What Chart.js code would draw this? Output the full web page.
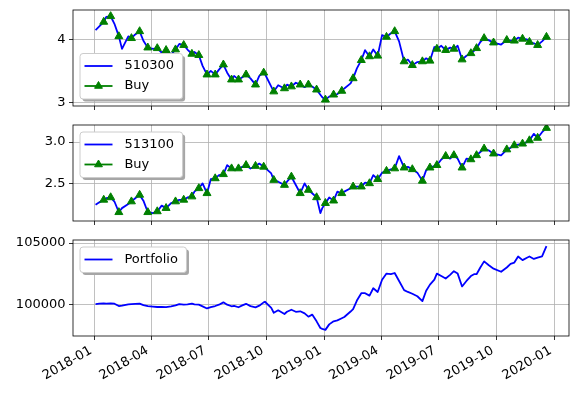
<!DOCTYPE html>
<html>
<head>
<meta charset="utf-8">
<script src="https://cdn.jsdelivr.net/npm/chart.js@4.4.0/dist/chart.umd.min.js"></script>
<style>
  html, body { margin: 0; padding: 0; background: #fff; }
  #wrap { position: relative; width: 578px; height: 397px; }
  canvas { position: absolute; left: 0; }
</style>
</head>
<body>
<div id="wrap">
  <canvas id="c510300" width="578" height="115" style="top:0px"></canvas>
  <canvas id="c513100" width="578" height="115" style="top:115px"></canvas>
  <canvas id="cPortfolio" width="578" height="167" style="top:230px"></canvas>
</div>
<script>
// trading dates sampled from the backtest
const dates = [
  '2018-01-02','2018-01-08','2018-01-15','2018-01-19','2018-01-26','2018-02-01','2018-02-08','2018-02-13','2018-02-23','2018-02-28',
  '2018-03-06','2018-03-13','2018-03-19','2018-03-26','2018-04-03','2018-04-10','2018-04-17','2018-04-24','2018-05-02','2018-05-09',
  '2018-05-15','2018-05-22','2018-05-28','2018-06-04','2018-06-08','2018-06-15','2018-06-21','2018-06-28','2018-07-04','2018-07-11',
  '2018-07-17','2018-07-24','2018-07-30','2018-08-06','2018-08-10','2018-08-17','2018-08-23','2018-08-29','2018-09-05','2018-09-13',
  '2018-09-19','2018-09-26','2018-09-28','2018-10-08','2018-10-12','2018-10-19','2018-10-29','2018-11-02','2018-11-09','2018-11-16',
  '2018-11-23','2018-11-30','2018-12-06','2018-12-12','2018-12-19','2018-12-25','2018-12-28','2019-01-02','2019-01-08','2019-01-15',
  '2019-01-21','2019-01-28','2019-02-01','2019-02-11','2019-02-15','2019-02-21','2019-02-28','2019-03-06','2019-03-13','2019-03-19',
  '2019-03-26','2019-04-02','2019-04-09','2019-04-16','2019-04-22','2019-04-29','2019-05-07','2019-05-13','2019-05-20','2019-05-28',
  '2019-06-05','2019-06-11','2019-06-17','2019-06-24','2019-06-28','2019-07-05','2019-07-12','2019-07-19','2019-07-25','2019-07-31',
  '2019-08-07','2019-08-14','2019-08-21','2019-08-26','2019-08-30','2019-09-05','2019-09-11','2019-09-18','2019-09-26','2019-10-08',
  '2019-10-17','2019-10-23','2019-10-29','2019-11-04','2019-11-11','2019-11-18','2019-11-22','2019-11-29','2019-12-05','2019-12-12',
  '2019-12-19'
];

const price510300 = [
  4.15, 4.21, 4.28, 4.36, 4.37, 4.25, 4.05, 3.85, 4.05, 4.02,
  4.08, 4.13, 3.98, 3.87, 3.85, 3.86, 3.79, 3.83, 3.76, 3.84,
  3.93, 3.91, 3.84, 3.77, 3.80, 3.75, 3.58, 3.44, 3.50, 3.44,
  3.52, 3.60, 3.47, 3.36, 3.42, 3.36, 3.40, 3.44, 3.38, 3.28,
  3.42, 3.47, 3.45, 3.25, 3.17, 3.27, 3.22, 3.28, 3.25, 3.31,
  3.28, 3.24, 3.28, 3.25, 3.20, 3.12, 3.08, 3.04, 3.09, 3.12,
  3.13, 3.18, 3.22, 3.30, 3.38, 3.54, 3.67, 3.83, 3.73, 3.84,
  3.74, 4.07, 4.04, 4.10, 4.13, 3.97, 3.65, 3.68, 3.59, 3.64,
  3.65, 3.70, 3.66, 3.88, 3.85, 3.90, 3.83, 3.87, 3.85, 3.90,
  3.68, 3.74, 3.78, 3.82, 3.86, 3.96, 4.02, 3.99, 3.95, 3.92,
  3.99, 3.98, 3.98, 4.03, 4.01, 4.00, 3.96, 3.94, 3.91, 3.97,
  4.04
];

const price513100 = [
  2.24, 2.27, 2.30, 2.32, 2.33, 2.28, 2.15, 2.20, 2.25, 2.28,
  2.32, 2.36, 2.29, 2.15, 2.14, 2.16, 2.23, 2.20, 2.26, 2.28,
  2.30, 2.30, 2.33, 2.34, 2.40, 2.44, 2.50, 2.38, 2.55, 2.56,
  2.60, 2.61, 2.72, 2.68, 2.66, 2.68, 2.70, 2.72, 2.68, 2.71,
  2.74, 2.70, 2.69, 2.62, 2.54, 2.52, 2.48, 2.52, 2.58, 2.48,
  2.38, 2.50, 2.42, 2.38, 2.33, 2.14, 2.20, 2.26, 2.33, 2.29,
  2.40, 2.38, 2.40, 2.44, 2.46, 2.46, 2.46, 2.51, 2.50, 2.60,
  2.55, 2.63, 2.65, 2.67, 2.68, 2.83, 2.69, 2.70, 2.67, 2.63,
  2.53, 2.66, 2.69, 2.71, 2.72, 2.79, 2.83, 2.80, 2.84, 2.80,
  2.69, 2.80, 2.79, 2.82, 2.84, 2.88, 2.92, 2.90, 2.86, 2.84,
  2.91, 2.93, 2.96, 2.97, 2.98, 3.00, 3.02, 3.10, 3.05, 3.12,
  3.17
];

const portfolio = [
  100000, 100040, 100060, 100050, 100070, 100040, 99850, 99880, 99980, 100000,
  100020, 100040, 99920, 99840, 99800, 99770, 99780, 99760, 99820, 99900,
  100010, 99960, 99990, 100050, 99980, 99960, 99820, 99650, 99760, 99850,
  99960, 100150, 99960, 99830, 99870, 99750, 99900, 100030, 99840, 99740,
  99880, 100150, 100200, 99700, 99300, 99500, 99200, 99380, 99550, 99380,
  99420, 99250, 98980, 99150, 98600, 98050, 97980, 97900, 98350, 98600,
  98680, 98850, 98950, 99400, 99600, 100300, 100900, 100900, 100700, 101300,
  101000, 102000, 102500, 102450, 102550, 101900, 101150, 101000, 100850, 100650,
  100250, 101100, 101600, 102000, 102500, 102300, 102100, 102400, 102700, 102500,
  101450, 101900, 102300, 102450, 102450, 103000, 103500, 103200, 102900, 102650,
  103000, 103300, 103400, 103900, 103600, 103800, 103900, 103700, 103800, 103900,
  104750
];

// dates on which both ETFs were bought
const buyDates = [
  '2018-01-15','2018-01-26','2018-02-08','2018-02-28','2018-03-13','2018-03-26','2018-04-10','2018-04-24','2018-05-09','2018-05-22',
  '2018-06-04','2018-06-15','2018-06-28','2018-07-11','2018-07-24','2018-08-06','2018-08-17','2018-08-29','2018-09-13','2018-09-26',
  '2018-10-12','2018-10-29','2018-11-09','2018-11-23','2018-12-06','2018-12-19','2019-01-02','2019-01-15','2019-01-28','2019-02-15',
  '2019-02-28','2019-03-13','2019-03-26','2019-04-09','2019-04-22','2019-05-07','2019-05-20','2019-06-05','2019-06-17','2019-06-28',
  '2019-07-12','2019-07-25','2019-08-07','2019-08-21','2019-08-30','2019-09-11','2019-09-26','2019-10-17','2019-10-29','2019-11-11',
  '2019-11-22','2019-12-05','2019-12-19'
];

const xTickDates = ['2018-01-01','2018-04-01','2018-07-01','2018-10-01','2019-01-01','2019-04-01','2019-07-01','2019-10-01','2020-01-01'];
const xTickLabels = ['2018-01','2018-04','2018-07','2018-10','2019-01','2019-04','2019-07','2019-10','2020-01'];

const yTicks510300 = [3, 4];
const yLabels510300 = ['3', '4'];
const yTicks513100 = [2.5, 3.0];
const yLabels513100 = ['2.5', '3.0'];
const yTicksPortfolio = [100000, 105000];
const yLabelsPortfolio = ['100000', '105000'];

Chart.defaults.font.family = "'DejaVu Sans', sans-serif";
Chart.defaults.font.size = 13;
Chart.defaults.color = '#000';

const toTime = s => Date.parse(s + 'T00:00:00Z');
const times = dates.map(toTime);
const span = times[times.length - 1] - times[0];
const xMin = times[0] - 0.05 * span;
const xMax = times[times.length - 1] + 0.05 * span;

function triangle(ctx, x, y, r) {
  ctx.beginPath();
  ctx.moveTo(x, y - r);
  ctx.lineTo(x + 0.866 * r, y + r / 2);
  ctx.lineTo(x - 0.866 * r, y + r / 2);
  ctx.closePath();
}

function roundRect(ctx, x, y, w, h, r) {
  ctx.beginPath();
  ctx.moveTo(x + r, y);
  ctx.arcTo(x + w, y, x + w, y + h, r);
  ctx.arcTo(x + w, y + h, x, y + h, r);
  ctx.arcTo(x, y + h, x, y, r);
  ctx.arcTo(x, y, x + w, y, r);
  ctx.closePath();
}

// matplotlib-like frame and legend box
const frame = {
  id: 'frame',
  afterDatasetsDraw(chart, args, opts) {
    const { ctx, chartArea: a } = chart;
    ctx.save();
    ctx.strokeStyle = '#000';
    ctx.lineWidth = 0.8;
    ctx.strokeRect(a.left, a.top, a.right - a.left, a.bottom - a.top);

    const items = opts.items;
    ctx.font = "13px 'DejaVu Sans', sans-serif";
    const textW = Math.max(...items.map(it => ctx.measureText(it.label).width));
    const w = 44 + textW + 9;
    const h = items.length * 20 + 5.5;
    const x = a.left + 7;
    const y = opts.loc === 'lower left' ? a.bottom - 7 - h : a.top + 7;
    roundRect(ctx, x + 2.5, y + 2.5, w, h, 3);
    ctx.fillStyle = '#a6a6a6';
    ctx.fill();
    roundRect(ctx, x, y, w, h, 3);
    ctx.fillStyle = '#fff';
    ctx.fill();
    ctx.strokeStyle = '#cccccc';
    ctx.lineWidth = 1;
    ctx.stroke();
    items.forEach((it, i) => {
      const cy = y + 12.5 + 20 * i;
      ctx.beginPath();
      ctx.moveTo(x + 4.5, cy);
      ctx.lineTo(x + 32.5, cy);
      ctx.strokeStyle = it.color;
      ctx.lineWidth = 1.8;
      ctx.stroke();
      if (it.marker) {
        triangle(ctx, x + 18.5, cy, 4.5);
        ctx.fillStyle = it.color;
        ctx.lineWidth = 1;
        ctx.fill();
        ctx.stroke();
      }
      ctx.fillStyle = '#000';
      ctx.textBaseline = 'middle';
      ctx.textAlign = 'left';
      ctx.fillText(it.label, x + 44.4, cy);
    });
    ctx.restore();
  }
};

const gridStyle = { color: '#b0b0b0', lineWidth: 0.8, tickColor: '#000', tickLength: 4, tickWidth: 0.8 };

function makeChart(id, name, values, withBuys, yMin, yMax, yTicks, yLabels, legendLoc, showXLabels) {
  const datasets = [{
    label: name,
    data: times.map((t, i) => ({ x: t, y: values[i] })),
    borderColor: '#0000ff',
    borderWidth: 1.8,
    borderJoinStyle: 'round',
    pointRadius: 0,
    order: 1
  }];
  const items = [{ label: name, color: '#0000ff' }];
  if (withBuys) {
    datasets.push({
      label: 'Buy',
      data: buyDates.map(d => ({ x: toTime(d), y: values[dates.indexOf(d)] })),
      showLine: false,
      pointStyle: 'triangle',
      pointRadius: 4.6,
      pointBorderWidth: 1,
      pointBackgroundColor: '#008000',
      pointBorderColor: '#008000',
      order: 0
    });
    items.push({ label: 'Buy', color: '#008000', marker: true });
  }
  return new Chart(document.getElementById(id), {
    type: 'line',
    data: { datasets },
    plugins: [frame],
    options: {
      responsive: false,
      animation: false,
      events: [],
      layout: { padding: { top: 10, right: 9, bottom: 0, left: 0 } },
      plugins: {
        legend: { display: false },
        tooltip: { enabled: false },
        frame: { loc: legendLoc, items }
      },
      scales: {
        x: {
          type: 'linear',
          min: xMin,
          max: xMax,
          afterBuildTicks: ax => { ax.ticks = xTickDates.map(d => ({ value: toTime(d) })); },
          afterFit: ax => { ax.height = showXLabels ? 61 : 9; ax.paddingLeft = 0; ax.paddingRight = 0; },
          grid: gridStyle,
          border: { display: false },
          ticks: {
            display: showXLabels,
            autoSkip: false,
            minRotation: 30,
            maxRotation: 30,
            padding: 3,
            labelOffset: -4,
            callback: (v, i) => xTickLabels[i]
          }
        },
        y: {
          min: yMin,
          max: yMax,
          afterBuildTicks: ax => { ax.ticks = yTicks.map(v => ({ value: v })); },
          afterFit: ax => { ax.width = 73; ax.paddingTop = 0; ax.paddingBottom = 0; },
          grid: gridStyle,
          border: { display: false },
          ticks: { padding: 3.5, callback: (v, i) => yLabels[i] }
        }
      }
    }
  });
}

makeChart('c510300', '510300', price510300, true, 2.94, 4.47, yTicks510300, yLabels510300, 'lower left', false);
makeChart('c513100', '513100', price513100, true, 2.044, 3.207, yTicks513100, yLabels513100, 'upper left', false);
makeChart('cPortfolio', 'Portfolio', portfolio, false, 97400, 105246, yTicksPortfolio, yLabelsPortfolio, 'upper left', true);
</script>
</body>
</html>
